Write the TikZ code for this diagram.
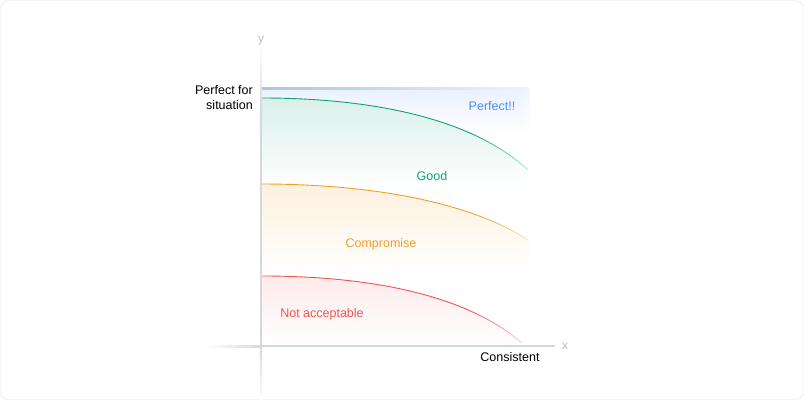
\documentclass[tikz,border=0pt]{standalone}
\usepackage{fontspec}
\setmainfont{Liberation Sans}
\usetikzlibrary{positioning,fadings}
\definecolor{framegray}{HTML}{E2E3E5}
\definecolor{axisgray}{HTML}{D4D8DE}
\definecolor{axislabel}{HTML}{B8BCC2}
\definecolor{perfectblue}{HTML}{4C8DF6}
\definecolor{perfectline}{HTML}{A9C3E8}
\definecolor{goodgreen}{HTML}{12A07B}
\definecolor{compromiseorange}{HTML}{EFA024}
\definecolor{badred}{HTML}{F25550}

\begin{tikzfadingfrompicture}[name=tail fade]
\fill[transparent!0] (-1cm,-1cm) rectangle (0.5cm,1cm);
\shade[left color=transparent!0,right color=transparent!100] (0.5cm,-1cm) rectangle (1cm,1cm);
\end{tikzfadingfrompicture}
\begin{tikzfadingfrompicture}[name=edge fade]
\fill[transparent!0] (-1cm,-1cm) rectangle (0.8cm,1cm);
\shade[left color=transparent!0,right color=transparent!100] (0.8cm,-1cm) rectangle (1cm,1cm);
\end{tikzfadingfrompicture}

\begin{document}
\begin{tikzpicture}
[x=1pt,y=-1pt,%
  band/.style={draw=none,path fading=edge fade,fit fading=true},%
  curve/.style={line width=0.9pt,path fading=tail fade,fit fading=true},%
  label/.style={inner sep=0pt,font=\fontsize{12.5}{15}\selectfont},%
  axislab/.style={inner sep=0pt,text=axislabel,font=\fontsize{12}{14}\selectfont}]
\useasboundingbox (0,0) rectangle (804,400);
\draw[framegray,rounded corners=8pt] (0.5,0.5) rectangle (803.5,399.5);

% bands
\shade[band,top color=perfectblue!12,bottom color=white] (261,88) rectangle (530,135);
\shade[band,top color=goodgreen!16,bottom color=white]
  (261,98) .. controls (390,98) and (480,125) .. (528,170) -- (530,170) -- (530,186) -- (261,186) -- cycle;
\shade[band,top color=compromiseorange!15,bottom color=white]
  (261,184) .. controls (380,184) and (475,205) .. (528,240) -- (530,240) -- (530,274) -- (261,274) -- cycle;
\shade[band,top color=badred!12,bottom color=white]
  (261,276) .. controls (380,276) and (470,298) .. (522,343) -- (522,345) -- (261,345) -- cycle;

% boundaries
\shade[left color=perfectline,right color=perfectline!20] (261,87) rectangle (528,89);
\draw[curve,goodgreen] (261,98) .. controls (390,98) and (480,125) .. (528,170);
\draw[curve,compromiseorange] (261,184) .. controls (380,184) and (475,205) .. (528,240);
\draw[curve,badred] (261,276) .. controls (380,276) and (470,298) .. (522,343);

% axes
\shade[top color=white,bottom color=axisgray] (260,45) rectangle (262,110);
\fill[axisgray] (260,110) rectangle (262,347);
\shade[top color=axisgray,bottom color=white] (260,347) rectangle (262,400);
\shade[left color=white,right color=axisgray] (205,345) rectangle (262,347);
\fill[axisgray] (262,345) rectangle (555,347);

\node[axislab] (ylab) at (261,41) {y};
\node[axislab] (xlab) at (565,346) {x};
\node[label] (consistent) at (510,357) {Consistent};
\node[label,align=right,anchor=east] (perfectfor) at (253,98) {Perfect for\\situation};

\node[label,text=perfectblue] (perfect) at (492,106) {Perfect!!};
\node[label,text=goodgreen] (good) at (432,176) {Good};
\node[label,text=compromiseorange] (compromise) at (381,244) {Compromise};
\node[label,text=badred] (notacc) at (322,314) {Not acceptable};
\end{tikzpicture}
\end{document}
